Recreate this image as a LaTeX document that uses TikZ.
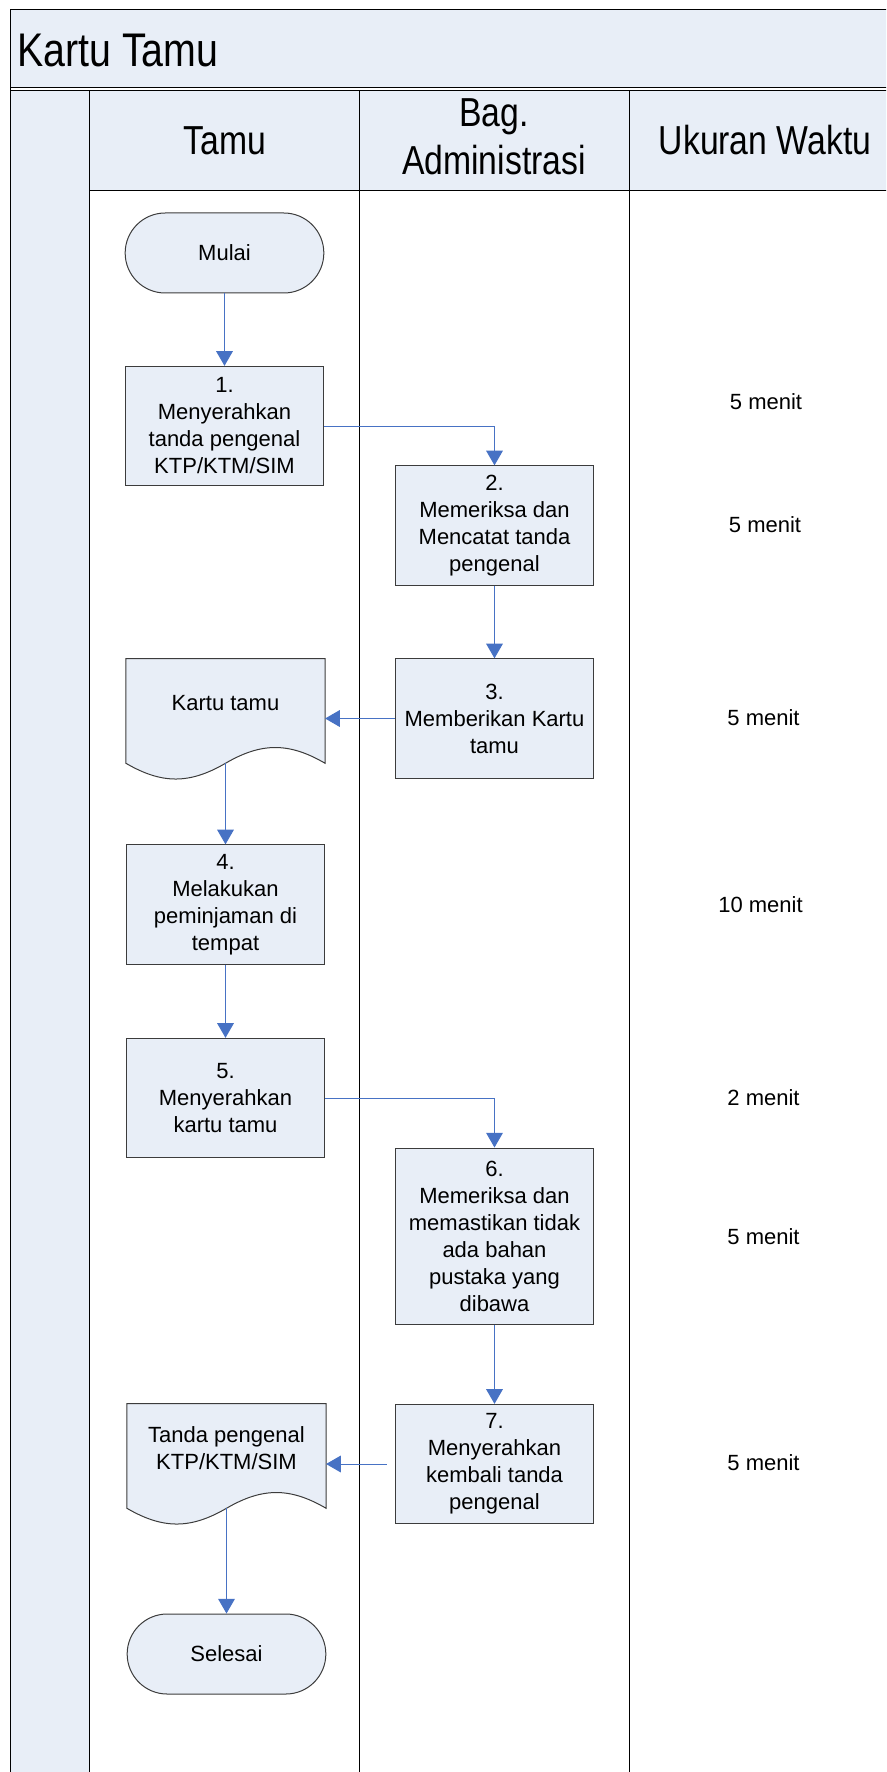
\documentclass[tikz,border=0pt]{standalone}
\usepackage{fontspec}
\setmainfont{Liberation Sans}
\usetikzlibrary{arrows.meta,backgrounds}
\definecolor{laneFill}{RGB}{232,238,247}
\definecolor{flowBlue}{RGB}{71,114,196}
\definecolor{boxLine}{RGB}{60,60,60}
\newcommand{\BoxFont}{\fontsize{16.5}{20.25}\selectfont}
\newcommand{\HeadFont}{\fontsize{25.3}{30.3}\selectfont}
\newcommand{\TitleFont}{\fontsize{29.5}{33}\selectfont}
\newcommand{\HeadText}[1]{\scalebox{1}[1.2]{#1}}
\newcommand{\DocOutline}[1]{%
  \draw[docline] (#1.north west) -- (#1.north east) -- ([yshift=-12pt]#1.south east)
    .. controls +(-36,-21) and +(36,-21) .. ([yshift=-12pt]#1.south)
    .. controls +(-36,21) and +(36,21) .. ([yshift=-12pt]#1.south west) -- cycle;}

\begin{document}
\begin{tikzpicture}[x=0.75pt,y=-0.75pt,
  frameline/.style={draw=black,line width=0.75pt},
  proc/.style={draw=boxLine,fill=laneFill,line width=0.75pt,minimum width=149pt,minimum height=89.5pt,inner sep=1pt,align=center,font=\BoxFont},
  term/.style={proc,rounded corners=30pt,minimum height=60pt},
  doc/.style={minimum width=149pt,minimum height=66pt,inner sep=0pt,align=center,font=\BoxFont},
  docline/.style={draw=boxLine,fill=laneFill,line width=0.75pt},
  flow/.style={draw=flowBlue,line width=0.75pt,-{Triangle[length=11pt,width=12.5pt]}},
  waktu/.style={font=\BoxFont},
  headtext/.style={inner sep=0pt,font=\HeadFont}]
\useasboundingbox (0,0) rectangle (886,1772);
\clip (0,0) rectangle (886,1772);

% pool and lanes
\fill[laneFill] (10,10) rectangle (900,88);
\fill[laneFill] (10,91) rectangle (89,1800);
\fill[laneFill] (89,91) rectangle (900,191);
\draw[frameline] (900,10) -- (10,10) -- (10,1800);
\draw[frameline] (10,88) -- (900,88) (10,91) -- (900,91);
\draw[frameline] (89,191) -- (900,191);
\foreach \x in {89,359,629}
  \draw[frameline] (\x,91) -- (\x,1800);

\node[headtext,font=\TitleFont,anchor=west] (judul) at (17,51) {\HeadText{Kartu Tamu}};
\node[headtext] (hTamu) at (225,141) {\HeadText{Tamu}};
\node[headtext] (hAdm) at (494,141) {\HeadText{\begin{tabular}{@{}c@{}}Bag.\\Administrasi\end{tabular}}};
\node[headtext] (hWaktu) at (765,140) {\HeadText{Ukuran Waktu}};

% steps
\node[term] (mulai) at (224.5,253) {Mulai};
\node[proc] (p1) at (224.5,426) {1.\\Menyerahkan\\tanda pengenal\\KTP/KTM/SIM};
\node[proc] (p2) at (494.5,525.5) {2.\\Memeriksa dan\\Mencatat tanda\\pengenal};
\node[proc] (p3) at (494.5,718.5) {3.\\Memberikan Kartu\\tamu};
\node[doc] (kartu) at (225.5,703) {Kartu tamu};
\node[proc] (p4) at (225.5,904.5) {4.\\Melakukan\\peminjaman di\\tempat};
\node[proc] (p5) at (225.5,1098) {5.\\Menyerahkan\\kartu tamu};
\node[proc,minimum height=132pt] (p6) at (494.5,1236) {6.\\Memeriksa dan\\memastikan tidak\\ada bahan\\pustaka yang\\dibawa};
\node[proc] (p7) at (494.5,1464) {7.\\Menyerahkan\\kembali tanda\\pengenal};
\node[doc] (tanda) at (226.5,1448) {Tanda pengenal\\KTP/KTM/SIM};
\node[term] (selesai) at (226.5,1654) {Selesai};

\begin{scope}[on background layer]
  \DocOutline{kartu}
  \DocOutline{tanda}
\end{scope}

% time per step
\node[waktu] (w1) at (766,402) {5 menit};
\node[waktu] (w2) at (765,525) {5 menit};
\node[waktu] (w3) at (763.5,718) {5 menit};
\node[waktu] (w4) at (760.5,905) {10 menit};
\node[waktu] (w5) at (763.5,1098) {2 menit};
\node[waktu] (w6) at (763.5,1237) {5 menit};
\node[waktu] (w7) at (763.5,1463) {5 menit};

% flow
\draw[flow] (mulai) -- (p1);
\draw[flow] (p1.east) -| (p2.north);
\draw[flow] (p2) -- (p3);
\draw[flow] (p3.west) -- (p3.west -| kartu.east);
\draw[flow] ([yshift=-12pt]kartu.south) -- (p4.north);
\draw[flow] (p4) -- (p5);
\draw[flow] (p5.east) -| (p6.north);
\draw[flow] (p6) -- (p7);
\draw[flow,shorten <=6pt] (p7.west) -- (p7.west -| tanda.east);
\draw[flow] ([yshift=-12pt]tanda.south) -- (selesai.north);
\end{tikzpicture}
\end{document}
